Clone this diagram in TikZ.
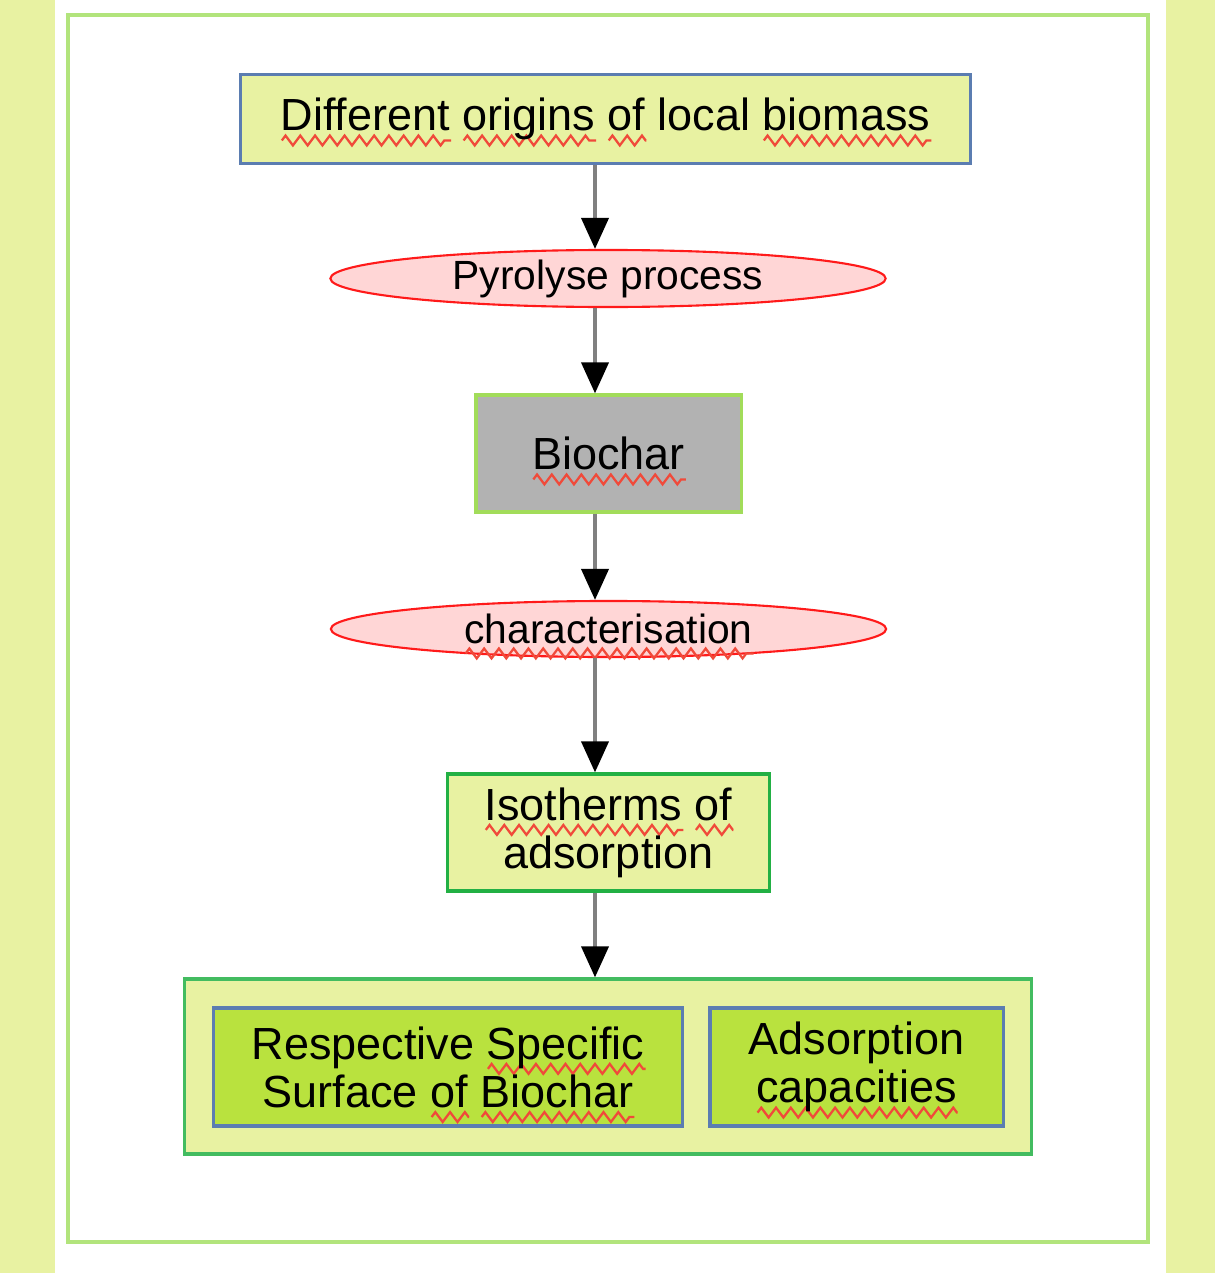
\documentclass[tikz,border=0pt]{standalone}
\usepackage{fontspec}
\setmainfont{Liberation Sans}
\usepackage{xcolor}
\usepackage{tikz}
\usetikzlibrary{shapes.geometric, arrows.meta, decorations.pathmorphing}

\definecolor{paleyellow}{HTML}{E8F2A2}
\definecolor{framegreen}{HTML}{B2E47C}
\definecolor{boxblue}{HTML}{5B7DB1}
\definecolor{ovalred}{HTML}{FF1A1A}
\definecolor{ovalpink}{HTML}{FFD6D6}
\definecolor{chargray}{HTML}{B2B2B2}
\definecolor{lightgreen}{HTML}{A2DC5A}
\definecolor{darkgreen}{HTML}{22B044}
\definecolor{limegreen}{HTML}{B9E23E}
\definecolor{spellred}{HTML}{F04A3A}

% wavy spell-check line under a word
\newsavebox{\squigbox}
\newcommand{\squig}[1]{\sbox{\squigbox}{#1}\rlap{\smash{\tikz[baseline=0pt] \draw[spellred, line width=0.65pt, decorate, decoration={zigzag, amplitude=1.4pt, segment length=4.2pt}] (0pt,-2.8pt) -- (\wd\squigbox,-2.8pt);}}\usebox{\squigbox}}
\newcommand{\boxfont}{\fontsize{12.8}{13.7}\selectfont}
\newcommand{\ovalfont}{\fontsize{11.6}{13}\selectfont}

\tikzset{
  stagebox/.style={draw=boxblue, line width=0.9pt, fill=paleyellow, font=\boxfont, inner sep=0pt, align=center},
  oval/.style={ellipse, draw=ovalred, line width=0.6pt, fill=ovalpink, font=\ovalfont, inner sep=0pt},
  flow/.style={draw=gray, line width=1.1pt, -{Triangle[length=0.31cm, width=0.27cm, color=black]}}
}

\begin{document}
\begin{tikzpicture}[x=0.01cm, y=-0.01cm]
\useasboundingbox (0,0) rectangle (1215,1273);
% Page background
\fill[white] (0,0) rectangle (1215,1273);
\fill[paleyellow] (0,0) rectangle (55,1273);
\fill[paleyellow] (1166,0) rectangle (1215,1273);
\draw[framegreen, line width=1.3pt] (68,15) rectangle (1148,1242);
% Flow stages
\node[stagebox, minimum width=7.29cm, minimum height=0.89cm] (origins) at (605.5,119) {\squig{Different} \squig{origins} \squig{of} local \squig{biomass}};
\node[oval, minimum width=5.55cm, minimum height=0.57cm] (pyro) at (608,278.5) {Pyrolyse process};
\node[stagebox, draw=lightgreen, fill=chargray, minimum width=2.65cm, minimum height=1.17cm] (biochar) at (608.5,453.5) {\squig{Biochar}};
\node[oval, minimum width=5.55cm, minimum height=0.56cm] (charac) at (608.5,629) {\squig{characterisation}};
\node[stagebox, draw=darkgreen, minimum width=3.21cm, minimum height=1.17cm] (iso) at (608.5,832.5) {\squig{Isotherms} \squig{of}\\adsorption};
% Results group
\node[stagebox, draw=darkgreen!85, minimum width=8.46cm, minimum height=1.75cm] (results) at (608,1066.5) {};
\node[stagebox, fill=limegreen, minimum width=4.68cm, minimum height=1.18cm] (surface) at (448,1067) {Respective \squig{Specific}\\Surface \squig{of} \squig{Biochar}};
\node[stagebox, fill=limegreen, minimum width=2.93cm, minimum height=1.18cm] (capac) at (856.5,1067) {Adsorption\\\squig{capacities}};
% Arrows down the axis
\coordinate (axis) at (595,0);
\draw[flow] (origins.south -| axis) -- (pyro.north -| axis);
\draw[flow] (pyro.south -| axis) -- (biochar.north -| axis);
\draw[flow] (biochar.south -| axis) -- (charac.north -| axis);
\draw[flow] (charac.south -| axis) -- (iso.north -| axis);
\draw[flow] (iso.south -| axis) -- (results.north -| axis);
\end{tikzpicture}
\end{document}
